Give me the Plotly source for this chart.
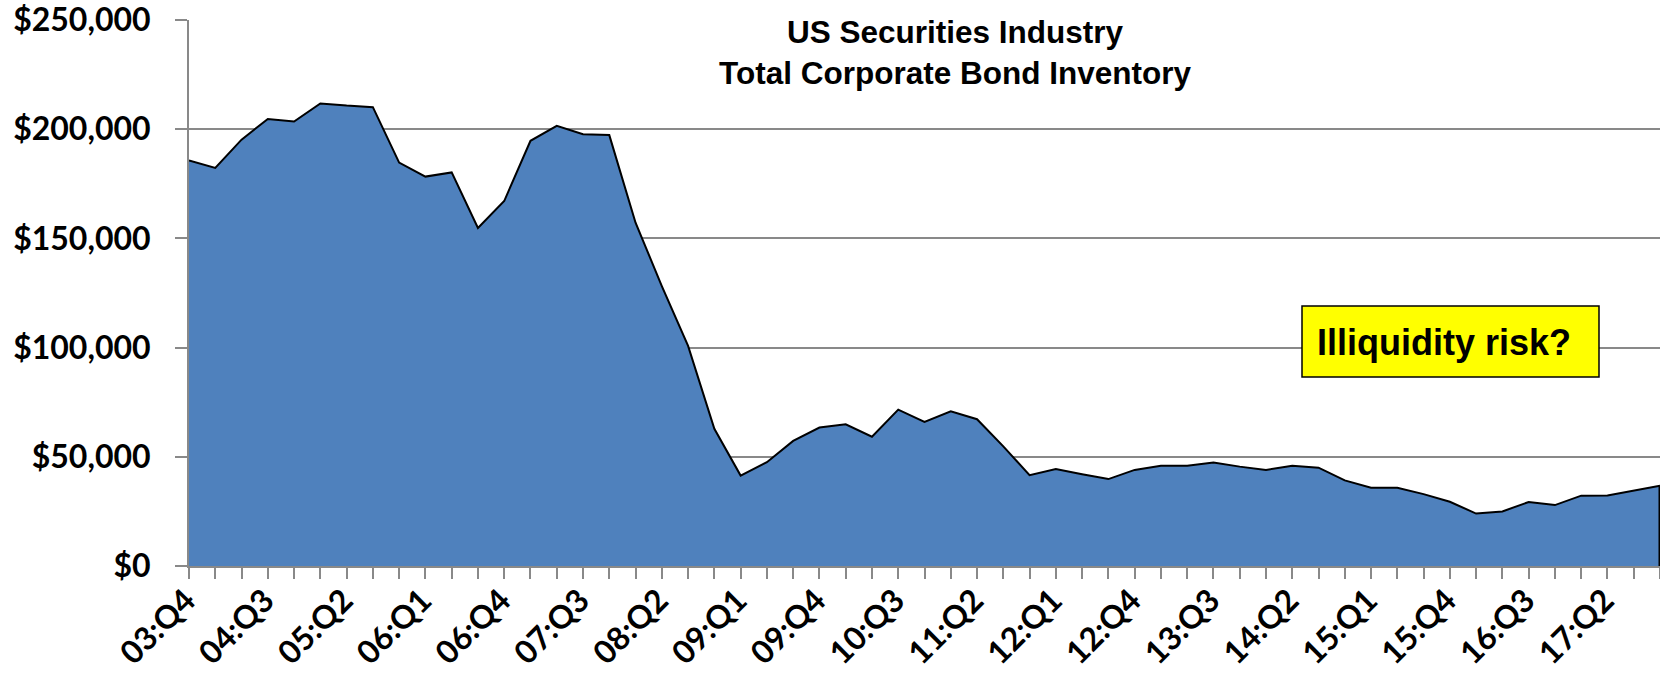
import plotly.graph_objects as go

# Quarterly dealer inventory of corporate bonds ($ millions)
quarters = [
    "03:Q4",
    "04:Q1", "04:Q2", "04:Q3", "04:Q4",
    "05:Q1", "05:Q2", "05:Q3", "05:Q4",
    "06:Q1", "06:Q2", "06:Q3", "06:Q4",
    "07:Q1", "07:Q2", "07:Q3", "07:Q4",
    "08:Q1", "08:Q2", "08:Q3", "08:Q4",
    "09:Q1", "09:Q2", "09:Q3", "09:Q4",
    "10:Q1", "10:Q2", "10:Q3", "10:Q4",
    "11:Q1", "11:Q2", "11:Q3", "11:Q4",
    "12:Q1", "12:Q2", "12:Q3", "12:Q4",
    "13:Q1", "13:Q2", "13:Q3", "13:Q4",
    "14:Q1", "14:Q2", "14:Q3", "14:Q4",
    "15:Q1", "15:Q2", "15:Q3", "15:Q4",
    "16:Q1", "16:Q2", "16:Q3", "16:Q4",
    "17:Q1", "17:Q2", "17:Q3", "17:Q4",
]

inventory = [
    185700,
    182300, 195200, 204700, 203500,
    211800, 210800, 210100, 184700,
    178300, 180200, 154800, 167100,
    194700, 201500, 197700, 197300,
    157200, 128200, 100800, 62800,
    41400, 47500, 57300, 63400,
    64900, 59200, 71600, 66000,
    70800, 67200, 54800, 41600,
    44400, 42000, 39800, 44000,
    45900, 45900, 47400, 45500,
    44000, 45900, 45000, 39200,
    35800, 35800, 32900, 29400,
    24000, 25000, 29300, 27900,
    32200, 32300, 34400, 36800,
]

labeled_quarters = [
    "03:Q4", "04:Q3", "05:Q2", "06:Q1", "06:Q4", "07:Q3", "08:Q2",
    "09:Q1", "09:Q4", "10:Q3", "11:Q2", "12:Q1", "12:Q4", "13:Q3",
    "14:Q2", "15:Q1", "15:Q4", "16:Q3", "17:Q2",
]

y_ticks = [0, 50000, 100000, 150000, 200000, 250000]
y_tick_labels = ["$0", "$50,000", "$100,000", "$150,000", "$200,000", "$250,000"]

title_lines = ["US Securities Industry", "Total Corporate Bond Inventory"]
callout_text = "Illiquidity risk?"

W, H = 1660, 684
L, R, T, B = 189, 0, 20, 118
pw, ph = W - L - R, H - T - B


def px_x(x):
    return (x - L) / pw


def px_y(y):
    return (H - B - y) / ph


grey = "#898989"
tick_font = dict(family="Lato", size=32, color="black", weight="bold")
x_index = list(range(len(quarters)))

fig = go.Figure()
fig.add_trace(go.Scatter(
    x=x_index,
    y=inventory,
    mode="lines",
    fill="tozeroy",
    fillcolor="#4F81BD",
    line=dict(color="black", width=2),
    hoverinfo="skip",
    showlegend=False,
))

# Outline closing the area on its right edge
fig.add_shape(
    type="line", xref="x", yref="y",
    x0=x_index[-1], x1=x_index[-1], y0=0, y1=inventory[-1],
    line=dict(color="black", width=3),
)

fig.update_layout(
    width=W,
    height=H,
    margin=dict(l=L, r=R, t=T, b=B),
    paper_bgcolor="white",
    plot_bgcolor="white",
    showlegend=False,
    xaxis=dict(
        range=[0, len(quarters) - 1],
        tickmode="array",
        tickvals=x_index,
        ticktext=[q if q in labeled_quarters else "" for q in quarters],
        tickangle=-45,
        tickfont=tick_font,
        ticks="outside",
        ticklen=11,
        tickwidth=2,
        tickcolor=grey,
        showline=True,
        linecolor=grey,
        linewidth=2,
        showgrid=False,
        zeroline=False,
        ticklabelstandoff=-10,
        ticklabelshift=-3,
        ticklabeloverflow="allow",
    ),
    yaxis=dict(
        range=[0, 250000],
        tickmode="array",
        tickvals=y_ticks,
        ticktext=y_tick_labels,
        tickfont=tick_font,
        ticks="outside",
        ticklen=12,
        tickwidth=2,
        tickcolor=grey,
        showline=True,
        linecolor=grey,
        linewidth=2,
        showgrid=True,
        gridcolor=grey,
        gridwidth=2,
        zeroline=False,
        ticklabelstandoff=18,
        ticklabeloverflow="allow",
    ),
)

# Chart heading inside the plot
fig.add_annotation(
    x=px_x(955), y=px_y(12), xref="paper", yref="paper",
    xanchor="center", yanchor="top",
    text="<br>".join(title_lines),
    showarrow=False,
    font=dict(family="Liberation Sans", size=31.5, color="black", weight="bold"),
    align="center",
)

# Yellow callout box
fig.add_shape(
    type="rect", xref="paper", yref="paper",
    x0=px_x(1302), x1=px_x(1599), y0=px_y(377), y1=px_y(306),
    fillcolor="#FFFF00",
    line=dict(color="black", width=1.5),
    layer="above",
)
fig.add_annotation(
    x=px_x(1444), y=px_y(342), xref="paper", yref="paper",
    xanchor="center", yanchor="middle",
    text=callout_text,
    showarrow=False,
    font=dict(family="Liberation Sans", size=36, color="black", weight="bold"),
)

fig.write_html("out.html")
